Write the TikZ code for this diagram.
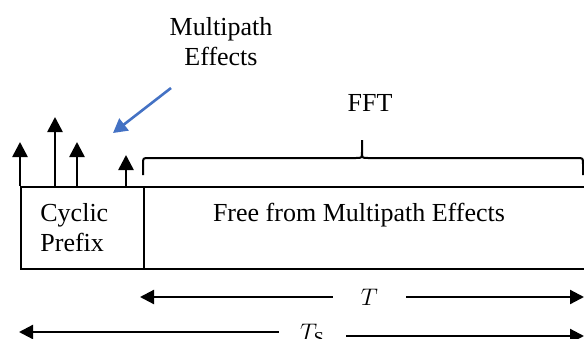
\documentclass[tikz,border=0pt]{standalone}
\usepackage{fontspec}
\setmainfont{Liberation Serif}
\usepackage{xcolor}
\usepackage{tikz}
\usetikzlibrary{arrows.meta, positioning, calc}

\definecolor{callout}{RGB}{68,114,196}

\begin{document}
\begin{tikzpicture}[
    x=0.5pt, y=-0.5pt,
    font=\fontsize{13}{15}\selectfont,
    part/.style={rectangle, draw=black, line width=1pt, minimum height=41pt, inner sep=0pt},
    impulse/.style={-{Triangle[length=7.5pt, width=7.5pt]}, line width=1.3pt},
    span/.style={-{Triangle[length=7pt, width=7pt]}, line width=1.1pt},
    pointer/.style={-{Triangle[length=7pt, width=7.5pt]}, line width=1.3pt, draw=callout, color=callout},
    label/.style={inner sep=0pt}
]
\useasboundingbox (0,0) rectangle (584,338);

% symbol: cyclic prefix + useful part
\node[part, minimum width=61.5pt, anchor=north west] (cp) at (20,186) {};
\node[part, minimum width=224pt, anchor=north west] (free) at (143,186) {};
\node[label, align=left, anchor=west] (cptext) at (40,228) {Cyclic\\Prefix};
\node[label] (freetext) at (359,215) {Free from Multipath Effects};

% received echoes
\coordinate (e1) at (20,186);
\coordinate (e2) at (55,186);
\coordinate (e3) at (77,186);
\coordinate (e4) at (126,186);
\coordinate (t1) at (20,142);
\coordinate (t2) at (55,117);
\coordinate (t3) at (77,142);
\coordinate (t4) at (126,155);
\draw[impulse] (e1) -- (t1);
\draw[impulse] (e2) -- (t2);
\draw[impulse] (e3) -- (t3);
\draw[impulse] (e4) -- (t4);

% multipath callout
\node[label, align=center] (multi) at (221,42) {Multipath\\Effects};
\coordinate (mstart) at (171,88);
\coordinate (mend) at (113,133);
\draw[pointer] (mstart) -- (mend);

% FFT window (brace)
\coordinate (bl) at (143,175);
\coordinate (bm) at (362,140);
\coordinate (br) at (583,175);
\draw[line width=1pt] (bl) -- ++(0,-11) .. controls +(0,-6) .. ($(bl)+(6,-17)$)
    -- ($(bm)+(-6,18)$) .. controls +(6,0) .. ($(bm)+(0,12)$) -- (bm)
    -- ($(bm)+(0,12)$) .. controls +(0,6) .. ($(bm)+(6,18)$)
    -- ($(br)+(-6,-17)$) .. controls +(6,0) .. ($(br)+(0,-11)$) -- (br);
\node[label] (fft) at (370,103) {FFT};

% durations
\node[label, minimum width=36.5pt] (tlab) at (369.5,297) {$T$};
\coordinate (tl) at (140,297);
\coordinate (tr) at (584,297);
\draw[span] (tlab) -- (tl);
\draw[span] (tlab) -- (tr);

\node[label, minimum width=33.5pt] (tslab) at (312.5,334) {$T_{\mathrm{S}}$};
\coordinate (tsl) at (19,332);
\coordinate (tsr) at (584,336);
\draw[span] (tslab.west |- tsl) -- (tsl);
\draw[span] (tslab.east |- tsr) -- (tsr);

\end{tikzpicture}
\end{document}
